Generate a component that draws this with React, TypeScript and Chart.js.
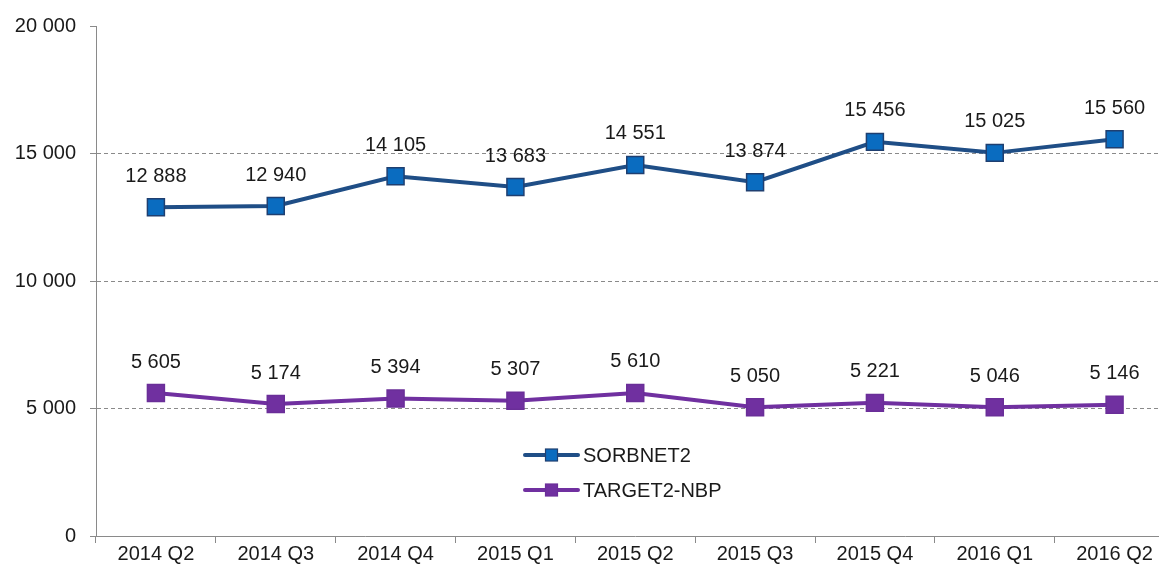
import React, { useEffect, useRef } from "react";
import { Chart, registerables } from "chart.js";

Chart.register(...registerables);

const categories = ["2014 Q2", "2014 Q3", "2014 Q4", "2015 Q1", "2015 Q2", "2015 Q3", "2015 Q4", "2016 Q1", "2016 Q2"];
const sorbnetValues = [12888, 12940, 14105, 13683, 14551, 13874, 15456, 15025, 15560];
const targetValues = [5605, 5174, 5394, 5307, 5610, 5050, 5221, 5046, 5146];
const yTickValues = [0, 5000, 10000, 15000, 20000];
const seriesNames = ["SORBNET2", "TARGET2-NBP"];

const FONT = "'Liberation Sans', Arial, sans-serif";
const fmt = (v: number) => String(Math.round(v)).replace(/\B(?=(\d{3})+(?!\d))/g, " ");

const dataLabelPlugin = {
  id: "dataLabels",
  afterDatasetsDraw(chart: any) {
    const ctx = chart.ctx;
    ctx.save();
    ctx.font = `20px ${FONT}`;
    ctx.fillStyle = "#1a1a1a";
    ctx.textAlign = "center";
    ctx.textBaseline = "middle";
    chart.data.datasets.forEach((ds: any, di: number) => {
      const meta = chart.getDatasetMeta(di);
      meta.data.forEach((pt: any, i: number) => {
        ctx.fillText(fmt(ds.data[i]), pt.x, pt.y - 31);
      });
    });
    ctx.restore();
  },
};

const legendPlugin = {
  id: "customLegend",
  afterDraw(chart: any) {
    const ctx = chart.ctx;
    const x0 = 525;
    const x1 = 578;
    const ys = [455, 490];
    ctx.save();
    chart.data.datasets.forEach((ds: any, i: number) => {
      const y = ys[i];
      ctx.strokeStyle = ds.borderColor;
      ctx.lineWidth = 4;
      ctx.lineCap = "round";
      ctx.beginPath();
      ctx.moveTo(x0, y);
      ctx.lineTo(x1, y);
      ctx.stroke();
      const cx = (x0 + x1) / 2;
      ctx.fillStyle = ds.pointBackgroundColor;
      ctx.fillRect(cx - 6, y - 6, 12, 12);
      ctx.strokeStyle = ds.pointBorderColor;
      ctx.lineWidth = 1.2;
      ctx.strokeRect(cx - 6, y - 6, 12, 12);
      ctx.fillStyle = "#1a1a1a";
      ctx.font = `20px ${FONT}`;
      ctx.textAlign = "left";
      ctx.textBaseline = "middle";
      ctx.fillText(ds.label, x1 + 5, y + 1);
    });
    ctx.restore();
  },
};

export default function App() {
  const ref = useRef<HTMLCanvasElement | null>(null);

  useEffect(() => {
    if (!ref.current) return;
    const chart = new Chart(ref.current, {
      type: "line",
      data: {
        labels: categories,
        datasets: [
          {
            label: seriesNames[0],
            data: sorbnetValues,
            borderColor: "#1F4E86",
            borderWidth: 4,
            pointStyle: "rect",
            pointRadius: 12,
            pointBackgroundColor: "#0A6CC0",
            pointBorderColor: "#1F3F70",
            pointBorderWidth: 1.5,
            tension: 0,
          },
          {
            label: seriesNames[1],
            data: targetValues,
            borderColor: "#7030A0",
            borderWidth: 4,
            pointStyle: "rect",
            pointRadius: 12,
            pointBackgroundColor: "#7030A0",
            pointBorderColor: "#6A2E98",
            pointBorderWidth: 1.5,
            tension: 0,
          },
        ],
      },
      options: {
        responsive: false,
        animation: false,
        events: [],
        layout: { padding: { top: 25, right: 6, left: 0, bottom: 0 } },
        plugins: {
          legend: { display: false },
          tooltip: { enabled: false },
        },
        scales: {
          x: {
            type: "category",
            offset: true,
            grid: {
              offset: true,
              drawOnChartArea: false,
              drawTicks: true,
              tickLength: 7,
              tickColor: "#8a8a8a",
            },
            border: { color: "#8a8a8a", width: 1 },
            ticks: {
              color: "#1a1a1a",
              font: { family: FONT, size: 20 },
              padding: -1,
              maxRotation: 0,
              autoSkip: false,
            },
            afterFit: (s: any) => {
              s.height = 35;
            },
          },
          y: {
            min: 0,
            max: 20000,
            afterBuildTicks: (s: any) => {
              s.ticks = yTickValues.map((v) => ({ value: v }));
            },
            grid: {
              color: (c: any) =>
                c.tick && (c.tick.value === 0 || c.tick.value === 20000) ? "rgba(0,0,0,0)" : "#8a8a8a",
              tickColor: "#8a8a8a",
              tickLength: 6,
              tickBorderDash: [],
              lineWidth: 1,
            },
            border: { color: "#8a8a8a", width: 1, dash: [4, 3] },
            ticks: {
              color: "#1a1a1a",
              font: { family: FONT, size: 20 },
              padding: 14,
              callback: (v: any) => fmt(Number(v)),
            },
            afterFit: (s: any) => {
              s.width = 96;
            },
          },
        },
      },
      plugins: [dataLabelPlugin, legendPlugin],
    } as any);
    return () => chart.destroy();
  }, []);

  return (
    <div
      style={{
        position: "fixed",
        left: 0,
        top: 0,
        width: 1159,
        height: 571,
        overflow: "hidden",
        background: "#ffffff",
      }}
    >
      <canvas ref={ref} width={1188} height={571} style={{ display: "block" }} />
    </div>
  );
}
